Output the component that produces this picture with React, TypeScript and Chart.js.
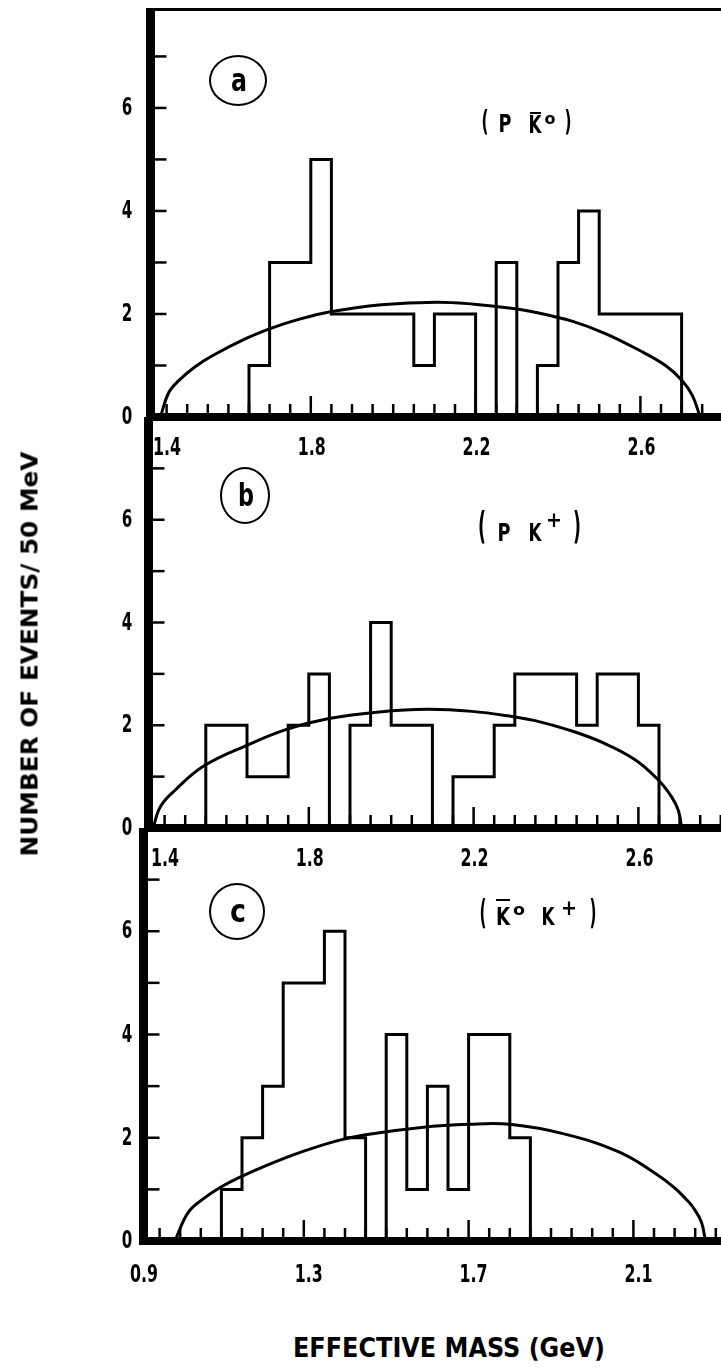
import React, { useEffect, useRef } from "react";
import { Chart, registerables } from "chart.js";

Chart.register(...registerables);

const FONT =
  "'Liberation Sans Narrow','DejaVu Sans Condensed','Roboto Condensed','DejaVu Sans','Liberation Sans',sans-serif";

const BIN = 0.05;
const PX_PER_GEV = 412;

// ---- Panel (a): p K̄0 ----
const aStart = 1.65;
const aCounts = [1, 3, 3, 5, 2, 2, 2, 2, 1, 2, 2, 0, 3, 0, 1, 3, 4, 2, 2, 2, 2];
const aCurveX = [1.435, 1.455, 1.48, 1.52, 1.561, 1.642, 1.703, 1.764, 1.845, 1.971, 2.106, 2.196, 2.286, 2.353, 2.434, 2.515, 2.596, 2.661, 2.701, 2.726, 2.745];
const aCurveY = [0, 0.47, 0.71, 0.98, 1.19, 1.52, 1.72, 1.88, 2.04, 2.18, 2.23, 2.19, 2.11, 2.02, 1.86, 1.62, 1.3, 1.0, 0.71, 0.42, 0];
const aTickLabels = [1.4, 1.8, 2.2, 2.6];

// ---- Panel (b): p K+ ----
const bStart = 1.55;
const bCounts = [2, 2, 1, 1, 2, 3, 0, 2, 4, 2, 2, 0, 1, 1, 2, 3, 3, 3, 2, 3, 3, 2];
const bCurveX = [1.422, 1.44, 1.476, 1.544, 1.647, 1.746, 1.849, 1.971, 2.088, 2.196, 2.294, 2.349, 2.43, 2.511, 2.592, 2.649, 2.681, 2.697, 2.705];
const bCurveY = [0, 0.42, 0.74, 1.2, 1.6, 1.92, 2.13, 2.26, 2.31, 2.27, 2.17, 2.09, 1.91, 1.67, 1.33, 0.93, 0.6, 0.34, 0];
const bTickLabels = [1.4, 1.8, 2.2, 2.6];

// ---- Panel (c): K̄0 K+ ----
const cStart = 1.1;
const cCounts = [1, 2, 3, 5, 5, 6, 2, 0, 4, 1, 3, 1, 4, 4, 2];
const cCurveX = [0.987, 1.02, 1.06, 1.1, 1.14, 1.22, 1.3, 1.38, 1.45, 1.585, 1.7, 1.8, 1.934, 2.066, 2.157, 2.2, 2.229, 2.246, 2.265, 2.275];
const cCurveY = [0, 0.56, 0.84, 1.05, 1.22, 1.5, 1.74, 1.94, 2.06, 2.2, 2.26, 2.26, 2.07, 1.72, 1.29, 1.03, 0.8, 0.64, 0.37, 0];
const cTickLabels = [0.9, 1.3, 1.7, 2.1];

const yTickLabels = [0, 2, 4, 6];

const xTitle = "EFFECTIVE MASS (GeV)";
const yTitle = "NUMBER OF EVENTS/ 50 MeV";

const measureCtx = (() => {
  if (typeof document === "undefined") return null;
  return document.createElement("canvas").getContext("2d");
})();

function measure(text: string, font: string): number {
  if (!measureCtx) return text.length * 10;
  measureCtx.font = font;
  return measureCtx.measureText(text).width || 1;
}

function fmt(v: number) {
  return v.toFixed(1);
}

type PanelProps = {
  left: number;
  canvasTop: number;
  areaTop: number;
  areaBottom: number;
  padBottom: number;
  xMin: number;
  yMax: number;
  start: number;
  counts: number[];
  curveX: number[];
  curveY: number[];
  xLabels: number[];
  firstLabelInside: boolean;
  topLine: boolean;
};

function Panel(p: PanelProps) {
  const ref = useRef<HTMLCanvasElement>(null);
  const padTop = p.areaTop - p.canvasTop;
  const height = p.areaBottom + p.padBottom - p.canvasTop;
  const xMax = p.xMin + (721 - p.left) / PX_PER_GEV;

  useEffect(() => {
    const hist = [
      { x: p.start, y: 0 },
      ...p.counts.map((c, i) => ({ x: p.start + i * BIN, y: c })),
      { x: p.start + p.counts.length * BIN, y: 0 },
    ];
    const curve = p.curveX.map((x, i) => ({ x, y: p.curveY[i] }));

    const drawText = (
      ctx: CanvasRenderingContext2D,
      text: string,
      x: number,
      y: number,
      size: number,
      digitW: number,
      align: CanvasTextAlign
    ) => {
      ctx.save();
      ctx.font = `bold ${size}px ${FONT}`;
      const s = digitW / (ctx.measureText("0").width || 1);
      ctx.translate(x, y);
      ctx.scale(s, 1);
      ctx.textAlign = align;
      ctx.textBaseline = "middle";
      ctx.fillText(text, 0, 0);
      ctx.restore();
    };

    const axesPlugin = {
      id: "paperAxes",
      afterDatasetsDraw(chart: any) {
        const ctx: CanvasRenderingContext2D = chart.ctx;
        const a = chart.chartArea;
        const xs = chart.scales.x;
        const ys = chart.scales.y;
        const y0 = ys.getPixelForValue(0);
        const axX = a.left + 4.5;
        const seg = (x1: number, y1: number, x2: number, y2: number) => {
          ctx.beginPath();
          ctx.moveTo(x1, y1);
          ctx.lineTo(x2, y2);
          ctx.stroke();
        };
        ctx.save();
        ctx.strokeStyle = "#000";
        ctx.fillStyle = "#000";
        ctx.lineCap = "butt";
        // y ticks (inside)
        ctx.lineWidth = 2.5;
        for (let v = 1; v < p.yMax; v++) {
          const py = ys.getPixelForValue(v);
          seg(axX, py, axX + 16, py);
        }
        // x ticks (inside)
        const k0 = Math.ceil(p.xMin / BIN + 1e-6);
        const k1 = Math.floor(xMax / BIN + 1e-6);
        for (let k = k0; k <= k1; k++) {
          const v = k * BIN;
          const tall = p.xLabels.some((l) => Math.abs(l - v) < 1e-6);
          const px = xs.getPixelForValue(v);
          if (px < a.left + 9) continue;
          seg(px, y0, px, y0 - (tall ? 21 : 13));
        }
        // x axis line
        ctx.lineWidth = 8;
        seg(a.left, y0, a.right, y0);
        // top frame line
        if (p.topLine) {
          ctx.lineWidth = 3;
          seg(a.left, a.top + 1.5, a.right, a.top + 1.5);
        }
        // y axis line
        ctx.lineWidth = 9;
        seg(axX, a.top, axX, y0 + 4);
        // y labels
        for (const v of yTickLabels) {
          drawText(ctx, String(v), 127, ys.getPixelForValue(v) + 1, 24, 10.5, "center");
        }
        // x labels
        p.xLabels.forEach((v, i) => {
          const px = xs.getPixelForValue(v);
          if (i === 0) {
            if (p.firstLabelInside) drawText(ctx, fmt(v), a.left + 7, y0 + 32, 24, 11, "left");
            else drawText(ctx, fmt(v), a.left + 5, y0 + 35, 24, 11, "center");
          } else {
            drawText(ctx, fmt(v), px + (p.firstLabelInside ? 1 : 5), y0 + (p.firstLabelInside ? 32 : 35), 24, 11, "center");
          }
        });
        ctx.restore();
      },
    };

    const chart = new Chart(ref.current!, {
      type: "line",
      data: {
        datasets: [
          {
            data: hist,
            stepped: true,
            borderColor: "#000",
            borderWidth: 3,
            borderJoinStyle: "miter",
            pointRadius: 0,
            fill: false,
          } as any,
          {
            data: curve,
            borderColor: "#000",
            borderWidth: 3,
            pointRadius: 0,
            tension: 0.4,
            fill: false,
          } as any,
        ],
      },
      options: {
        animation: false,
        responsive: false,
        devicePixelRatio: 1,
        events: [],
        layout: { padding: { left: p.left, right: 0, top: padTop, bottom: p.padBottom } },
        scales: {
          x: { type: "linear", min: p.xMin, max: xMax, display: false },
          y: { type: "linear", min: 0, max: p.yMax, display: false },
        },
        plugins: { legend: { display: false }, tooltip: { enabled: false } },
      },
      plugins: [axesPlugin],
    });
    return () => chart.destroy();
  }, []);

  return (
    <canvas
      ref={ref}
      width={721}
      height={height}
      style={{ position: "absolute", left: 0, top: p.canvasTop, width: 721, height }}
    />
  );
}

type TxtProps = { text: string; x: number; y: number; size: number; width?: number; rotate?: number };

function Txt({ text, x, y, size, width, rotate = 0 }: TxtProps) {
  const font = `bold ${size}px ${FONT}`;
  const w = measure(text, font);
  const sx = width ? width / w : 1;
  return (
    <div
      style={{
        position: "absolute",
        left: x,
        top: y,
        transform: `translate(-50%,-50%) rotate(${rotate}deg) scaleX(${sx})`,
        font,
        lineHeight: 1,
        whiteSpace: "pre",
        color: "#000",
      }}
    >
      {text}
    </div>
  );
}

function Bar({ x1, x2, y }: { x1: number; x2: number; y: number }) {
  return <div style={{ position: "absolute", left: x1, top: y - 1.25, width: x2 - x1, height: 2.5, background: "#000" }} />;
}

function Circle({ x, y, w, h, letter }: { x: number; y: number; w: number; h: number; letter: string }) {
  return (
    <>
      <div
        style={{
          position: "absolute",
          left: x - w / 2,
          top: y - h / 2,
          width: w,
          height: h,
          boxSizing: "border-box",
          border: "2.5px solid #000",
          borderRadius: "50%",
        }}
      />
      <Txt text={letter} x={x + 1} y={y} size={32} width={16} />
    </>
  );
}

export default function App() {
  return (
    <div style={{ position: "absolute", left: 0, top: 0, width: 721, height: 1368, background: "#fff", overflow: "hidden" }}>
      <Panel
        left={146}
        canvasTop={0}
        areaTop={8}
        areaBottom={417}
        padBottom={52}
        xMin={1.4}
        yMax={7.94}
        start={aStart}
        counts={aCounts}
        curveX={aCurveX}
        curveY={aCurveY}
        xLabels={aTickLabels}
        firstLabelInside={true}
        topLine={true}
      />
      <Panel
        left={144}
        canvasTop={407}
        areaTop={417}
        areaBottom={828}
        padBottom={52}
        xMin={1.4}
        yMax={8}
        start={bStart}
        counts={bCounts}
        curveX={bCurveX}
        curveY={bCurveY}
        xLabels={bTickLabels}
        firstLabelInside={true}
        topLine={false}
      />
      <Panel
        left={139}
        canvasTop={818}
        areaTop={828}
        areaBottom={1241}
        padBottom={62}
        xMin={0.9}
        yMax={8}
        start={cStart}
        counts={cCounts}
        curveX={cCurveX}
        curveY={cCurveY}
        xLabels={cTickLabels}
        firstLabelInside={false}
        topLine={false}
      />

      {/* panel tags */}
      <Circle x={238} y={80} w={58} h={51} letter="a" />
      <Circle x={245} y={495} w={50} h={57} letter="b" />
      <Circle x={237} y={911} w={56} h={57} letter="c" />

      {/* (p K̄0) */}
      <div>
        <Txt text="(" x={485} y={121} size={29} width={7} />
        <Txt text="P" x={505} y={124} size={24} width={13} />
        <Txt text="K" x={535} y={125} size={24} width={13} />
        <Bar x1={530} x2={541} y={113} />
        <Txt text="o" x={550} y={119} size={16} width={11} />
        <Txt text=")" x={568} y={121} size={29} width={7} />
      </div>

      {/* (p K+) */}
      <div>
        <Txt text="(" x={482} y={525} size={38} width={8} />
        <Txt text="P" x={504} y={533} size={24} width={13} />
        <Txt text="K" x={535} y={533} size={24} width={13} />
        <Txt text="+" x={554} y={520} size={22} width={16} />
        <Txt text=")" x={577} y={525} size={38} width={8} />
      </div>

      {/* (K̄0 K+) */}
      <div>
        <Txt text="(" x={483} y={912} size={34} width={7} />
        <Txt text="K" x={503} y={917} size={24} width={14} />
        <Bar x1={496} x2={510} y={900} />
        <Txt text="o" x={519} y={910} size={16} width={12} />
        <Txt text="K" x={548} y={917} size={24} width={13} />
        <Txt text="+" x={569} y={908} size={22} width={16} />
        <Txt text=")" x={593} y={912} size={34} width={7} />
      </div>

      {/* axis titles */}
      <Txt text={xTitle} x={449} y={1347} size={27} width={312} />
      <Txt text={yTitle} x={30} y={654} size={23} width={405} rotate={-90} />
    </div>
  );
}
